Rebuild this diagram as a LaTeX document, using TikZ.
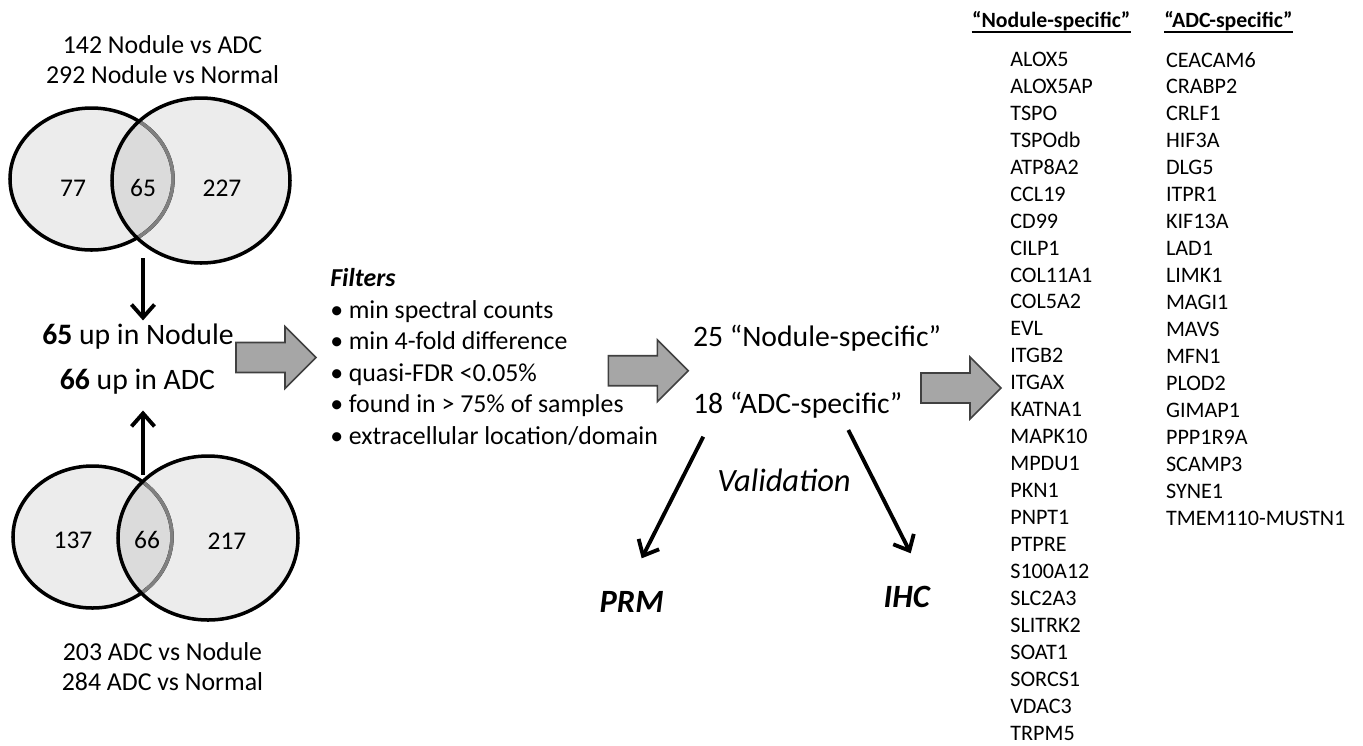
\documentclass[tikz,border=0pt]{standalone}
\usepackage{fontspec}
\setmainfont{Carlito}
\usepackage{tikz}
\usetikzlibrary{arrows.meta,positioning,calc}
\definecolor{vennfill}{RGB}{236,236,236}
\definecolor{vennmid}{RGB}{219,219,219}
\definecolor{vennarc}{RGB}{128,128,128}
\definecolor{blockfill}{RGB}{166,166,166}
\definecolor{blockline}{RGB}{64,64,64}

\begin{document}
\begin{tikzpicture}[x=0.02cm,y=-0.02cm,
  txt/.style={inner sep=0,font=\fontsize{14.7}{17.1}\selectfont,align=center},
  num/.style={inner sep=0,font=\fontsize{14.5}{17}\selectfont},
  bigtxt/.style={inner sep=0,font=\fontsize{16.9}{20}\selectfont},
  valtxt/.style={inner sep=0,font=\fontsize{18.5}{22}\selectfont\itshape},
  headtxt/.style={inner sep=0,font=\fontsize{12.4}{15}\selectfont\bfseries},
  genes/.style={inner sep=0,font=\fontsize{12.6}{15.34}\selectfont,align=left,anchor=north west},
  ring/.style={line width=2pt,draw=black},
  arrow/.style={-{Straight Barb[length=2.6mm,width=4.6mm]},line width=2.2pt},
  fatarrow/.pic={\draw[fill=blockfill,draw=blockline,line width=0.9pt]
    (0,-15) -- (49,-15) -- (49,-31) -- (80,0) -- (49,31) -- (49,15) -- (0,15) -- cycle;}
]
\useasboundingbox (0,0) rectangle (1363,745);
\def\topL{(91.5,179) ellipse [x radius=81.5, y radius=71]}
\def\topR{(201,180.5) ellipse [x radius=89, y radius=82.5]}
\def\botL{(92.5,537) ellipse [x radius=79.5, y radius=71]}
\def\botR{(208,538) ellipse [x radius=90, y radius=82]}

% Nodule venn
\fill[vennfill] \topL;
\fill[vennfill] \topR;
\begin{scope}
  \clip \topL;
  \fill[vennmid] \topR;
\end{scope}
\draw[ring] \topL;
\begin{scope}
  \clip \topR;
  \draw[line width=2pt,draw=vennarc] \topL;
\end{scope}
\draw[ring] \topR;

% ADC venn
\fill[vennfill] \botL;
\fill[vennfill] \botR;
\begin{scope}
  \clip \botL;
  \fill[vennmid] \botR;
\end{scope}
\draw[ring] \botL;
\begin{scope}
  \clip \botR;
  \draw[line width=2pt,draw=vennarc] \botL;
\end{scope}
\draw[ring] \botR;

\node[txt] (nodhead) at (162.5,60) {142 Nodule vs ADC\\292 Nodule vs Normal};
\node[num] (n77) at (73,188) {77};
\node[num] (n65) at (143,188) {65};
\node[num] (n227) at (222,188) {227};
\node[num] (n137) at (73,540) {137};
\node[num] (n66) at (147,540) {66};
\node[num] (n217) at (227,541) {217};
\node[txt] (adchead) at (162.5,666.7) {203 ADC vs Nodule\\284 ADC vs Normal};

\node[bigtxt] (upnod) at (138,337) {\textbf{65} up in Nodule};
\node[bigtxt] (upadc) at (137.5,381.7) {\textbf{66} up in ADC};
\coordinate (topx) at (143,258);
\coordinate (botx) at (143,475);
\draw[arrow,shorten >=2pt] (topx) -- (topx |- upnod.north);
\draw[arrow,shorten >=9pt] (botx) -- (botx |- upadc.south);

% filters
\node[inner sep=0,font=\fontsize{14.7}{18}\selectfont,align=left,anchor=west] (filters) at (330,357)
  {\textbf{\textit{Filters}}\\
   \makebox[10.5pt][l]{\textbullet}min spectral counts\\
   \makebox[10.5pt][l]{\textbullet}min 4-fold difference\\
   \makebox[10.5pt][l]{\textbullet}quasi-FDR <0.05\%\\
   \makebox[10.5pt][l]{\textbullet}found in > 75\% of samples\\
   \makebox[10.5pt][l]{\textbullet}extracellular location/domain};

\node[bigtxt,anchor=west] (nodspec) at (692.7,338) {25 “Nodule-specific”};
\node[bigtxt,anchor=west] (adcspec) at (692.7,405) {18 “ADC-specific”};
\node[valtxt] (valid) at (784,480) {Validation};
\node[valtxt,font=\fontsize{18.5}{22}\selectfont\bfseries\itshape] (prm) at (631.7,601.7) {PRM};
\node[valtxt,font=\fontsize{18.5}{22}\selectfont\bfseries\itshape] (ihc) at (906.7,596.7) {IHC};
\coordinate (vl) at (703.3,436.7);
\coordinate (vr) at (848.3,430);
\coordinate (prmtip) at (641.7,558.3);
\coordinate (ihctip) at (910.7,553.3);
\draw[arrow] (vl) -- (prmtip);
\draw[arrow] (vr) -- (ihctip);

\pic at (236,357.5) {fatarrow};
\pic at (608.3,370.7) {fatarrow};
\pic at (921,388) {fatarrow};

% gene lists
\node[headtxt,anchor=base west] (nodhd) at (971.7,27.3) {“Nodule-specific”};
\node[headtxt,anchor=base west] (adchd) at (1164,27.3) {“ADC-specific”};
\draw[line width=1.1pt] ([yshift=-2.5pt]nodhd.base west) -- ([yshift=-2.5pt]nodhd.base east);
\draw[line width=1.1pt] ([yshift=-2.5pt]adchd.base west) -- ([yshift=-2.5pt]adchd.base east);
\node[genes] (nodlist) at (1010,51.7) {ALOX5\\ALOX5AP\\TSPO\\TSPOdb\\ATP8A2\\CCL19\\CD99\\CILP1\\COL11A1\\COL5A2\\EVL\\ITGB2\\ITGAX\\KATNA1\\MAPK10\\MPDU1\\PKN1\\PNPT1\\PTPRE\\S100A12\\SLC2A3\\SLITRK2\\SOAT1\\SORCS1\\VDAC3\\TRPM5};
\node[genes] (adclist) at (1165.7,51.7) {CEACAM6\\CRABP2\\CRLF1\\HIF3A\\DLG5\\ITPR1\\KIF13A\\LAD1\\LIMK1\\MAGI1\\MAVS\\MFN1\\PLOD2\\GIMAP1\\PPP1R9A\\SCAMP3\\SYNE1\\TMEM110-MUSTN1};
\end{tikzpicture}
\end{document}
